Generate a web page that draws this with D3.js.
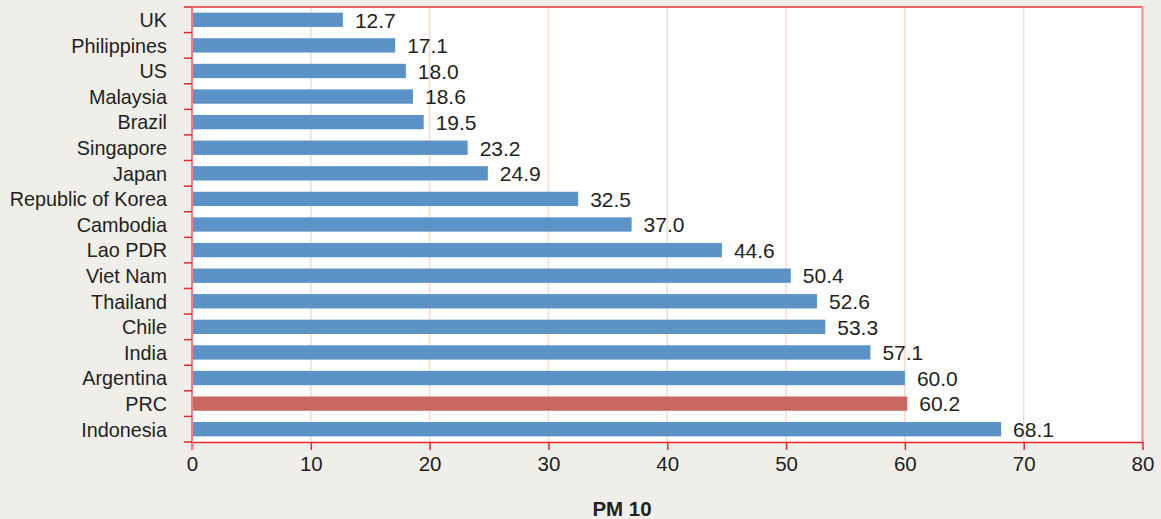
<!DOCTYPE html>
<html><head><meta charset="utf-8">
<script src="https://cdn.jsdelivr.net/npm/d3@7"></script>
<style>
html,body{margin:0;padding:0;background:#f0eee9;}
svg{display:block;}
text{font-family:"Liberation Sans",Arial,sans-serif;fill:#231f20;}
</style></head><body>
<svg id="c" width="1161" height="519"></svg>
<script>
const categories = ["UK","Philippines","US","Malaysia","Brazil","Singapore","Japan","Republic of Korea","Cambodia","Lao PDR","Viet Nam","Thailand","Chile","India","Argentina","PRC","Indonesia"];
const values = [12.7,17.1,18.0,18.6,19.5,23.2,24.9,32.5,37.0,44.6,50.4,52.6,53.3,57.1,60.0,60.2,68.1];
const highlight = ["PRC"];
const xTicks = [0,10,20,30,40,50,60,70,80];
const axisTitle = "PM 10";

const svg = d3.select("#c");
const m = {left:192, right:1142.5, top:7, bottom:442};
const x = d3.scaleLinear().domain([0,80]).range([m.left, m.right]);
const y = d3.scaleBand().domain(categories).range([m.top, m.bottom]).paddingInner(0.44).paddingOuter(0.22);
const yb = d3.scaleBand().domain(categories).range([m.top, m.bottom]);

svg.append("rect").attr("x",m.left).attr("y",m.top).attr("width",m.right-m.left).attr("height",m.bottom-m.top).attr("fill","#fff");

// gridlines
svg.append("g").selectAll("line").data(xTicks.filter(d=>d>0 && d<80)).join("line")
  .attr("x1",d=>x(d)).attr("x2",d=>x(d)).attr("y1",m.top).attr("y2",m.bottom)
  .attr("stroke","#f9d9cd").attr("stroke-width",1.5);

// bars
svg.append("g").selectAll("rect").data(categories).join("rect")
  .attr("x",x(0)).attr("y",d=>y(d)).attr("height",y.bandwidth())
  .attr("width",(d,i)=>x(values[i])-x(0))
  .attr("fill",d=>highlight.includes(d)?"#c96862":"#5b93c6");

// value labels
svg.append("g").selectAll("text").data(categories).join("text")
  .attr("x",(d,i)=>x(values[i])+12).attr("y",d=>yb(d)+yb.bandwidth()/2)
  .attr("dy","0.37em").attr("font-size","21px")
  .text((d,i)=>values[i].toFixed(1));

// borders
svg.append("line").attr("x1",m.left).attr("x2",m.right).attr("y1",m.top).attr("y2",m.top).attr("stroke","#e8323a").attr("stroke-width",1.5);
svg.append("line").attr("x1",m.right).attr("x2",m.right).attr("y1",m.top).attr("y2",m.bottom).attr("stroke","#f08c92").attr("stroke-width",2);

// x axis
const xa = svg.append("g").attr("transform",`translate(0,${m.bottom})`)
  .call(d3.axisBottom(x).tickValues(xTicks).tickSize(8).tickPadding(6).tickSizeOuter(0));
xa.select(".domain").attr("stroke","#e8262d").attr("stroke-width",1.5);
xa.selectAll(".tick line").attr("stroke","#e8262d").attr("stroke-width",1.5);
xa.selectAll(".tick text").attr("font-size","20.5px").attr("fill","#231f20").attr("font-family","Liberation Sans, Arial, sans-serif");

// y axis: ticks at band boundaries
const ya = svg.append("g").attr("transform",`translate(${m.left},0)`);
ya.append("line").attr("x1",0).attr("x2",0).attr("y1",m.top).attr("y2",m.bottom+8).attr("stroke","#f07c84").attr("stroke-width",2);
const bounds = categories.map(c=>yb(c)).concat([m.bottom]);
ya.selectAll("line.t").data(bounds).join("line").attr("class","t")
  .attr("x1",-8).attr("x2",0).attr("y1",d=>d).attr("y2",d=>d)
  .attr("stroke","#e8262d").attr("stroke-width",1.5);
ya.selectAll("text").data(categories).join("text")
  .attr("x",-25).attr("y",d=>yb(d)+yb.bandwidth()/2).attr("dy","0.37em")
  .attr("text-anchor","end").attr("font-size","19.8px").text(d=>d);

svg.append("text").attr("x",622).attr("y",516).attr("text-anchor","middle")
  .attr("font-size","20.5px").attr("font-weight","bold").text(axisTitle);
</script>
</body></html>
